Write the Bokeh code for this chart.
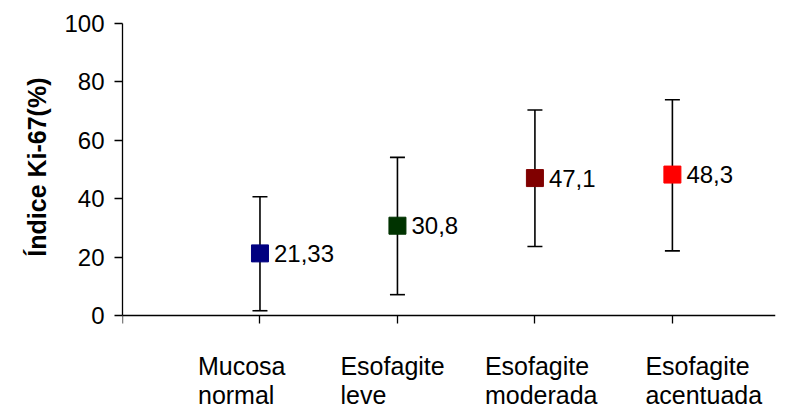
from bokeh.plotting import figure
from bokeh.models import Range1d, FixedTicker, ColumnDataSource, CustomJSTickFormatter, Title
from bokeh.embed import file_html
from bokeh.resources import INLINE
from bokeh.core.properties import value

# ---- data ----
cat_line1 = ["Mucosa", "Esofagite", "Esofagite", "Esofagite"]
cat_line2 = ["normal", "leve", "moderada", "acentuada"]
cat_pos = [1, 2, 3, 4]
means = [21.33, 30.8, 47.1, 48.3]
mean_labels = ["21,33", "30,8", "47,1", "48,3"]
lower = [1.7, 7.2, 23.7, 22.2]
upper = [40.7, 54.2, 70.4, 73.9]
colors = ["#000080", "#003300", "#800000", "#FF0000"]
y_ticks = [0, 20, 40, 60, 80, 100]
x_ticks = [0, 1, 2, 3, 4]
y_title = "Índice Ki-67(%)"

FONT = "Liberation Sans"

p = figure(frame_width=653, frame_height=386, output_backend="svg", toolbar_location=None,
           x_range=Range1d(0, 4.75), y_range=Range1d(-32.1, 100),
           min_border_left=122, min_border_right=25, min_border_top=23, min_border_bottom=0)
p.outline_line_color = None
p.xgrid.visible = False
p.ygrid.visible = False
p.background_fill_color = "white"
p.border_fill_color = "white"

# x axis drawn at y = 0 inside the frame
xa = p.xaxis[0]
xa.fixed_location = 0
xa.ticker = FixedTicker(ticks=x_ticks)
xa.formatter = CustomJSTickFormatter(code="return ''")
xa.major_tick_out = 8
xa.major_tick_in = 0
xa.minor_tick_out = 0
xa.minor_tick_in = 0
xa.axis_line_color = "black"
xa.major_tick_line_color = "black"
xa.axis_line_width = 1.3
xa.major_tick_line_width = 1.3

ya = p.yaxis[0]
ya.bounds = (0, 100)
ya.ticker = FixedTicker(ticks=y_ticks)
ya.major_tick_out = 8
ya.major_tick_in = 0
ya.minor_tick_out = 0
ya.minor_tick_in = 0
ya.axis_line_color = "black"
ya.major_tick_line_color = "black"
ya.axis_line_width = 1.3
ya.major_tick_line_width = 1.3
ya.major_label_text_font = FONT
ya.major_label_text_font_size = "24px"
ya.major_label_text_color = "black"
ya.major_label_standoff = 10

# y axis title, aligned to the top part of the frame (the 0-100 region)
p.add_layout(Title(text=y_title, align="right", offset=54, text_font=FONT,
                   text_font_size="25px", text_font_style="bold", text_color="black",
                   standoff=22), "left")

src = ColumnDataSource(dict(x=cat_pos, m=means, lo=lower, hi=upper, c=colors, lab=mean_labels))

# error bars
p.segment(x0="x", y0="lo", x1="x", y1="hi", source=src, line_color="black", line_width=1.6)
p.scatter(x="x", y="lo", source=src, marker="dash", size=15, line_color="black", line_width=1.6)
p.scatter(x="x", y="hi", source=src, marker="dash", size=15, line_color="black", line_width=1.6)

# means
p.scatter(x="x", y="m", source=src, marker="square", size=17, fill_color="c", line_color="c")

# value labels
p.text(x="x", y="m", text="lab", source=src, x_offset=14, text_baseline="middle", text_align="left",
       text_font=value(FONT), text_font_size="24px", text_color="black")

# category labels (two lines, left aligned)
dxs = [-62, -57, -50, -27]
zeros = [0] * len(cat_pos)
csrc = ColumnDataSource(dict(x=cat_pos, y=zeros, l1=cat_line1, l2=cat_line2, dx=dxs))
p.text(x="x", y="y", text="l1", source=csrc, x_offset="dx", y_offset=50, text_align="left",
       text_baseline="alphabetic", text_font=value(FONT), text_font_size="25px", text_color="black")
p.text(x="x", y="y", text="l2", source=csrc, x_offset="dx", y_offset=79, text_align="left",
       text_baseline="alphabetic", text_font=value(FONT), text_font_size="25px", text_color="black")

open("out.html", "w").write(file_html(p, INLINE))
